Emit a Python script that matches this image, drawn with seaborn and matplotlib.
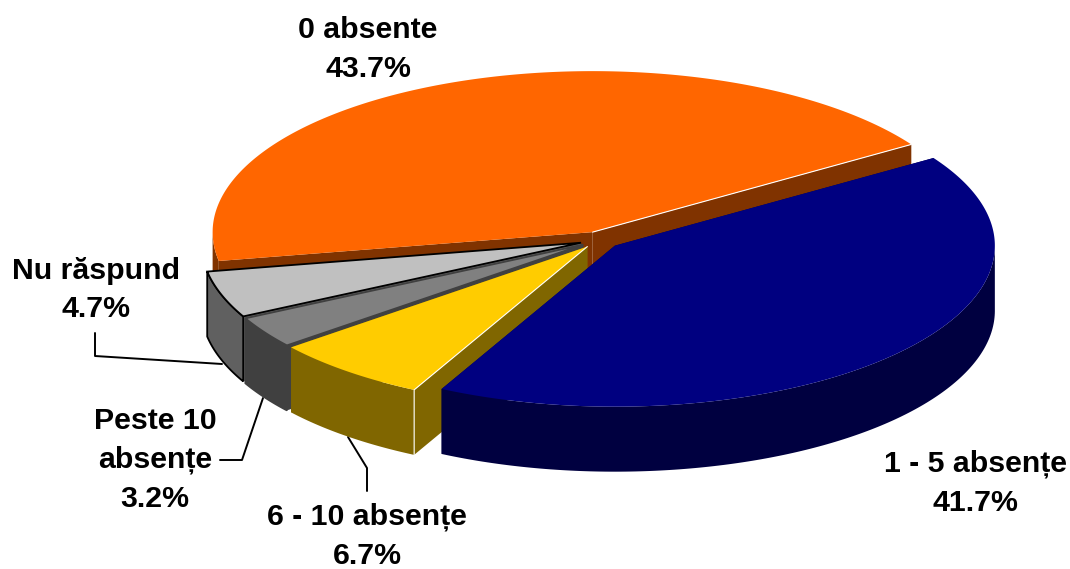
# Exploded 3D-look pie of absence counts, drawn by hand since matplotlib pie is flat
import numpy as np
import matplotlib
matplotlib.use('Agg')
import matplotlib.pyplot as plt
import seaborn as sns

# Data, counter-clockwise from the start angle
categories = ['0 absente', 'Nu răspund', 'Peste 10\nabsențe', '6 - 10 absențe', '1 - 5 absențe']
shares = [43.7, 4.7, 3.2, 6.7, 41.7]
hex_colors = ['#FF6600', '#C0C0C0', '#808080', '#FFCC00', '#000080']

# Layout, in pixels of the 1070x569 picture
label_xy = [(368, 49.5), (96, 290), (155, 460), (367, 536), (975, 483)]
leaders = [
    [(95, 333), (95, 356), (222, 364)],
    [(220, 460), (242, 460), (263, 398)],
    [(348, 437), (367, 468), (367, 491)],
]
cx, cy = 600, 240
rx, ry = 380, 161
depth = 65
explode = 20
start_angle = 33

sns.set_theme(style='white')
plt.rcParams['font.family'] = ['Liberation Sans', 'DejaVu Sans']
palette = sns.color_palette(hex_colors)
side_colors = [tuple(np.array(c) * 0.5) for c in palette]
edge_colors = [None, 'black', '#404040', None, None]


def rim(ax0, ay0, deg):
    t = np.radians(deg)
    return ax0 + rx * np.cos(t), ay0 - ry * np.sin(t)


fig, ax = plt.subplots(figsize=(10.7, 5.69), dpi=100)
ax.set_position([0, 0, 1, 1])
ax.set_xlim(0, 1070)
ax.set_ylim(569, 0)
ax.set_axis_off()

for pts in leaders:
    xs, ys = zip(*pts)
    ax.plot(xs, ys, color='black', lw=1.4, zorder=1)

angles = start_angle + np.concatenate([[0], np.cumsum(shares)]) * 3.6

# painter's order: the list order already runs back to front
for i, cat in enumerate(categories):
    a0, a1 = angles[i], angles[i + 1]
    mid = np.radians((a0 + a1) / 2)
    px = cx + explode * np.cos(mid)
    py = cy - explode * np.sin(mid) * ry / rx
    arc_x, arc_y = rim(px, py, np.linspace(a0, a1, 200))
    edge = edge_colors[i]
    z = 2 + i

    # cut faces
    for ex, ey in [(arc_x[0], arc_y[0]), (arc_x[-1], arc_y[-1])]:
        ax.fill([px, ex, ex, px], [py, ey, ey + depth, py + depth],
                color=side_colors[i], lw=0, zorder=z)

    # outer wall, only the part facing the viewer
    front = (np.mod(np.linspace(a0, a1, 200), 360) >= 180)
    wall_x, wall_y = arc_x[front], arc_y[front]
    if len(wall_x):
        ax.fill(np.r_[wall_x, wall_x[::-1]], np.r_[wall_y, wall_y[::-1] + depth],
                facecolor=side_colors[i], edgecolor=edge or 'none',
                lw=1.3 if edge else 0, zorder=z)

    # top face
    ax.fill(np.r_[px, arc_x], np.r_[py, arc_y], facecolor=palette[i],
            edgecolor=edge or 'none', lw=1.3 if edge else 0, zorder=z)

    # thin light lines along the lit edges
    if cat == '0 absente':
        ax.plot([px, arc_x[0]], [py, arc_y[0]], color='white', lw=0.8, zorder=z)
    if cat == '6 - 10 absențe':
        ax.plot([px, arc_x[-1], arc_x[-1]], [py, arc_y[-1], arc_y[-1] + depth],
                color='white', lw=0.8, zorder=z)

    lx, ly = label_xy[i]
    ax.text(lx, ly, f'{cat}\n{shares[i]}%', ha='center', va='center', fontsize=21.8,
            fontweight='bold', color='black', linespacing=1.48, zorder=10)

fig.savefig('out.png', dpi=100)
